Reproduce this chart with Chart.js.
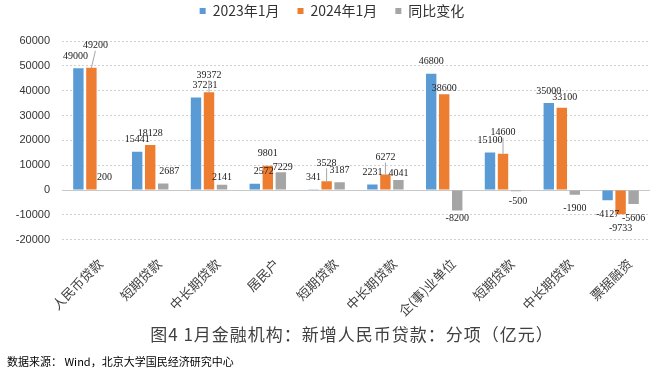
<!DOCTYPE html>
<html>
<head>
<meta charset="utf-8">
<script src="https://cdn.jsdelivr.net/npm/chart.js@4.4.1/dist/chart.umd.min.js"></script>
<style>
  html, body { margin: 0; padding: 0; background: #fff; }
  #wrap { position: relative; width: 664px; height: 374px; }
  #title {
    position: absolute; left: 20px; width: 664px; top: 321px;
    text-align: center; font: 17px "Noto Sans CJK SC", sans-serif; color: #404040;
    letter-spacing: 1px;
  }
  #source {
    position: absolute; left: 7px; top: 353px;
    font: 11px "Noto Sans CJK SC", sans-serif; color: #000;
  }
</style>
</head>
<body>
<div id="wrap">
  <canvas id="c" width="664" height="374"></canvas>
  <div id="title">图4 1月金融机构：新增人民币贷款：分项（亿元）</div>
  <div id="source">数据来源： Wind，北京大学国民经济研究中心</div>
</div>
<script>
const categories = ['人民币贷款', '短期贷款', '中长期贷款', '居民户', '短期贷款', '中长期贷款', '企(事)业单位', '短期贷款', '中长期贷款', '票据融资'];
const jan2023 = [49000, 15441, 37231, 2572, 341, 2231, 46800, 15100, 35000, -4127];
const jan2024 = [49200, 18128, 39372, 9801, 3528, 6272, 38600, 14600, 33100, -9733];
const yoyChange = [200, 2687, 2141, 7229, 3187, 4041, -8200, -500, -1900, -5606];
const yTicks = [-20000, -10000, 0, 10000, 20000, 30000, 40000, 50000, 60000];

// label nudges [dataset-index] = [dx, dy] ; dy > 0 moves away from the bar
const nudges = {
  '0-0': [-3, 0], '0-2': [9, 0], '0-3': [9, 0],
  '1-0': [4, 10], '1-2': [0, 5], '1-4': [0, 6], '1-5': [0, 5], '1-6': [0, -6.5], '1-7': [0, 9], '1-8': [3, -2],
  '2-1': [6, 0], '2-2': [0, -5], '2-3': [2, -7], '2-5': [0, -5], '2-6': [0, -6], '2-7': [2, -4]
};

const barLabels = {
  id: 'barLabels',
  afterInit(chart) {
    // leave a gap between the legend and the plot
    const legend = chart.legend;
    const fit = legend.fit;
    legend.fit = function () { fit.call(this); this.height += 13; };
  },
  beforeDatasetsDraw(chart) {
    // solid zero line
    const y0 = chart.scales.y.getPixelForValue(0);
    const ctx = chart.ctx;
    ctx.save();
    ctx.strokeStyle = '#c8c8c8';
    ctx.lineWidth = 1;
    ctx.beginPath();
    ctx.moveTo(chart.chartArea.left, Math.round(y0) + 0.5);
    ctx.lineTo(chart.chartArea.right, Math.round(y0) + 0.5);
    ctx.stroke();
    ctx.restore();
  },
  afterDatasetsDraw(chart) {
    const ctx = chart.ctx;
    ctx.save();
    ctx.font = '10px "Liberation Serif", serif';
    ctx.fillStyle = '#222';
    ctx.textAlign = 'center';
    ctx.textBaseline = 'middle';
    chart.data.datasets.forEach((ds, di) => {
      chart.getDatasetMeta(di).data.forEach((bar, i) => {
        const v = ds.data[i];
        const n = nudges[di + '-' + i] || [0, 0];
        const x = bar.x + n[0];
        let y;
        if (v >= 0) {
          y = bar.y - 12 - n[1];
          if (n[1] > 4) {
            ctx.strokeStyle = '#a6a6a6';
            ctx.lineWidth = 1;
            ctx.beginPath();
            ctx.moveTo(x, y + 5);
            ctx.lineTo(bar.x, bar.y);
            ctx.stroke();
          }
        } else {
          y = bar.y + 14 + n[1];
        }
        ctx.fillText(String(v), x, y);
      });
    });
    ctx.restore();
  }
};

const defaultLabels = Chart.defaults.plugins.legend.labels.generateLabels;

new Chart(document.getElementById('c'), {
  type: 'bar',
  data: {
    labels: categories,
    datasets: [
      { label: '2023年1月', data: jan2023, backgroundColor: '#5B9BD5' },
      { label: '2024年1月', data: jan2024, backgroundColor: '#ED7D31' },
      { label: '同比变化', data: yoyChange, backgroundColor: '#A5A5A5' }
    ]
  },
  options: {
    responsive: false,
    animation: false,
    categoryPercentage: 0.664,
    barPercentage: 0.8,
    layout: { padding: { left: 14, right: 14, top: 0, bottom: 47 } },
    plugins: {
      legend: {
        display: true,
        position: 'top',
        labels: {
          boxWidth: 6, boxHeight: 6, padding: 4,
          font: { size: 14, family: '"Noto Sans CJK SC", sans-serif' },
          color: '#333',
          // wider gap between items than between rows
          generateLabels: (chart) => defaultLabels(chart).map((it, i, arr) =>
            i < arr.length - 1 ? Object.assign(it, { text: it.text + '\u2002\u2002' }) : it)
        }
      },
      tooltip: { enabled: false }
    },
    scales: {
      y: {
        min: -20000, max: 60000,
        afterBuildTicks: (axis) => { axis.ticks = yTicks.map(v => ({ value: v })); },
        afterFit: (axis) => { axis.width = 48; },
        grid: {
          drawTicks: false,
          color: (c) => c.tick.value === 0 ? 'rgba(0,0,0,0)' : '#d0d0d0',
          lineWidth: 1
        },
        border: { display: false, dash: [2, 2] },
        ticks: {
          padding: 12, color: '#333',
          font: { size: 11, family: '"Liberation Sans", sans-serif' },
          callback: (v) => String(v)
        }
      },
      x: {
        afterFit: (axis) => { axis.paddingLeft = 0; axis.paddingRight = 0; },
        grid: { display: false },
        border: { display: false },
        ticks: {
          minRotation: 45, maxRotation: 45,
          labelOffset: 9, padding: 8,
          color: '#404040',
          font: { size: 13, family: '"Noto Sans CJK SC", sans-serif' }
        }
      }
    }
  },
  plugins: [barLabels]
});
</script>
</body>
</html>
